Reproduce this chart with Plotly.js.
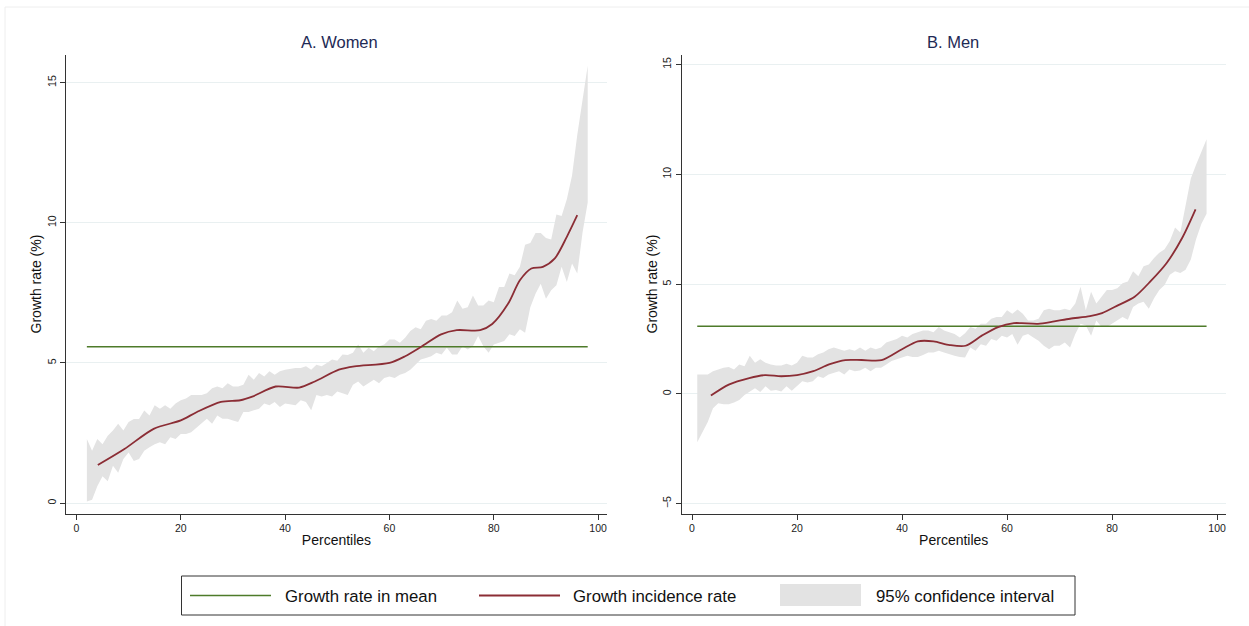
<!DOCTYPE html>
<html>
<head>
<meta charset="utf-8">
<script src="https://cdn.plot.ly/plotly-3.0.1.min.js"></script>
<style>
html,body{margin:0;padding:0;background:#fff;}
#chart{width:1249px;height:626px;}
</style>
</head>
<body>
<div id="chart"></div>
<script>
// ---------- DATA ----------
// Women: growth incidence curve (smoothed)
const womenGicX = [4.1, 9.2, 14.8, 20, 23.1, 27.7, 31.4, 33.7, 38.2, 42.7, 45.7, 50.3, 53.3, 60, 63, 66.1, 69.9, 72.9, 77.4, 79.7, 82.7, 85, 87.2, 89.4, 91.7, 94, 96];
const womenGicY = [1.36, 1.93, 2.65, 2.95, 3.25, 3.61, 3.67, 3.8, 4.16, 4.12, 4.34, 4.76, 4.88, 5.0, 5.24, 5.58, 6.02, 6.17, 6.17, 6.39, 7.1, 7.95, 8.37, 8.43, 8.73, 9.5, 10.27];
const womenMean = 5.58;
const womenMeanRange = [2, 98];
// Women: 95% CI
const womenCiX = [2,3,4,5,6,7,8,9,10,11,12,13,14,15,16,17,18,19,20,21,22,24,25,26,27,28,29,30,31,32,33,34,35,36,37,38,39,40,42,43,44,45,46,47,48,49,50,51,52,53,54,55,56,57,58,59,60,61,62,63,64,65,66,67,68,69,70,71,72,73,74,75,76,77,78,79,80,81,82,83,84,85,86,87,88,89,90,91,92,93,94,95,96,97,98];
const womenCiUpper = [2.29,1.87,2.29,2.1,2.4,2.59,2.83,2.59,2.89,3.0,3.0,3.3,3.13,3.49,3.37,3.49,3.37,3.55,3.67,3.73,3.86,3.86,3.92,4.1,4.16,4.1,4.28,4.16,4.16,4.22,4.58,4.4,4.64,4.52,4.7,4.58,4.7,4.76,4.82,4.82,4.88,4.76,4.94,4.88,5.0,5.12,5.08,5.3,5.28,5.36,5.66,5.36,5.54,5.42,5.6,5.66,5.84,5.84,5.72,5.9,6.14,6.27,6.2,6.51,6.57,6.51,6.69,6.69,6.81,7.23,6.93,6.99,7.41,7.05,7.05,7.23,7.17,7.71,7.71,8.19,8.13,8.43,9.22,9.28,9.64,9.64,9.46,9.4,10.3,10.24,10.84,11.69,13.13,14.46,15.6];
const womenCiLower = [0.06,0.12,0.6,0.96,0.78,1.33,1.08,1.57,1.81,1.5,1.57,1.87,1.99,2.1,2.17,2.1,2.35,2.29,2.47,2.47,2.53,2.83,3.01,2.83,3.13,3.01,3.01,2.95,2.89,3.25,3.25,3.31,3.37,3.55,3.49,3.61,3.43,3.55,3.49,3.67,3.61,3.31,3.86,3.8,3.86,3.8,3.98,3.92,3.86,4.22,4.34,4.16,4.28,4.4,4.28,4.46,4.52,4.46,4.58,4.64,4.76,4.94,5.12,5.18,5.24,5.36,5.3,5.54,5.3,5.3,5.6,5.48,5.6,5.96,5.6,5.36,5.66,5.72,5.78,6.02,5.96,6.2,6.08,6.99,7.47,7.83,7.29,7.59,7.77,8.43,7.89,8.55,8.19,9.64,10.72];

// Men: growth incidence curve (smoothed)
const menGicX = [3.6, 7, 10.9, 13.9, 17, 20, 23.1, 26.1, 29.2, 32.3, 36.1, 40, 43, 46, 49.1, 52.1, 55.2, 58.3, 61.3, 62.8, 65.9, 69, 72, 75.8, 78.1, 81.2, 84.3, 87.3, 90.4, 93.4, 95.9];
const menGicY = [-0.08, 0.42, 0.72, 0.85, 0.8, 0.85, 1.03, 1.34, 1.54, 1.54, 1.53, 2.03, 2.39, 2.39, 2.22, 2.19, 2.65, 3.04, 3.22, 3.22, 3.19, 3.3, 3.42, 3.54, 3.68, 4.04, 4.42, 5.12, 5.96, 7.12, 8.4];
const menMean = 3.08;
const menMeanRange = [1, 98];
// Men: 95% CI
const menCiX = [1,2,3,4,5,6,7,8,9,10,11,12,13,14,15,16,17,18,19,20,21,22,23,24,25,26,27,28,29,30,31,32,33,34,35,36,37,38,39,40,41,42,43,44,45,46,47,48,49,50,51,52,53,54,55,56,57,58,59,60,61,62,63,64,65,66,67,68,69,70,71,72,73,74,75,76,77,78,79,80,81,82,83,84,85,86,87,88,89,90,91,92,93,94,95,96,97,98];
const menCiUpper = [0.88,0.88,0.88,1.03,1.11,1.19,1.22,1.11,1.34,1.26,1.73,1.42,1.57,1.42,1.34,1.29,1.29,1.37,1.29,1.42,1.73,1.65,1.65,1.8,1.88,2.03,2.11,2.03,1.96,2.03,1.96,2.11,1.96,2.11,2.03,2.11,2.34,2.42,2.5,2.65,2.57,2.73,2.8,2.88,2.88,2.8,3.04,2.88,2.8,2.73,2.57,2.76,3.04,2.96,3.19,3.19,3.42,3.5,3.5,3.81,3.65,3.84,3.65,3.34,3.34,3.42,3.81,3.88,3.81,3.81,3.88,3.81,4.11,4.88,3.81,4.65,4.11,4.42,4.73,4.73,4.81,5.04,5.12,5.58,5.35,5.81,5.89,6.19,6.43,6.58,6.96,7.58,7.35,8.58,9.81,10.43,11.05,11.59];
const menCiLower = [-2.2,-1.74,-1.28,-0.66,-0.43,-0.48,-0.48,-0.4,-0.28,-0.05,0.11,0.26,0.08,0.34,0.14,0.18,0.11,0.34,0.14,0.34,0.57,0.52,0.57,0.8,0.72,0.88,0.96,1.03,0.88,1.11,1.03,1.06,1.19,1.03,1.19,1.19,1.34,1.49,1.57,1.65,1.73,1.68,1.68,1.77,1.88,1.88,1.96,1.88,1.8,1.73,1.68,1.65,2.11,1.96,2.26,2.19,2.5,2.42,2.65,2.57,2.73,2.23,2.65,2.73,2.57,2.42,2.19,2.03,2.19,2.19,2.34,2.11,2.73,3.19,3.11,2.65,3.34,3.04,3.04,3.19,3.34,3.5,3.37,3.96,4.11,4.19,3.88,4.35,4.73,4.96,5.42,5.58,5.5,5.65,6.12,7.04,7.73,8.2];

const panelTitles = ["A. Women", "B. Men"];
const xTickVals = [0, 20, 40, 60, 80, 100];
const womenYTicks = [0, 5, 10, 15];
const menYTicks = [-5, 0, 5, 10, 15];
const legendLabels = ["Growth rate in mean", "Growth incidence rate", "95% confidence interval"];

// ---------- STYLE ----------
const W = 1249, H = 626;
const RED = "#8b2d35", GREEN = "#4e7b2a", BAND = "#e3e3e3";
const FONT = "Liberation Sans, Arial, Helvetica, sans-serif";
const px = v => v / W;
const py = v => 1 - v / H;

function bandTraces(x, lo, hi, xa, ya) {
  return [
    {x: x, y: lo, xaxis: xa, yaxis: ya, mode: "lines", line: {width: 0, color: BAND}, hoverinfo: "skip", showlegend: false},
    {x: x, y: hi, xaxis: xa, yaxis: ya, mode: "lines", line: {width: 0, color: BAND}, fill: "tonexty", fillcolor: BAND, name: legendLabels[2], showlegend: false}
  ];
}
function meanTrace(v, r, xa, ya) {
  return {x: r, y: [v, v], xaxis: xa, yaxis: ya, mode: "lines", line: {color: GREEN, width: 1.6}, name: legendLabels[0], showlegend: false};
}
function gicTrace(x, y, xa, ya) {
  return {x: x, y: y, xaxis: xa, yaxis: ya, mode: "lines", line: {color: RED, width: 1.8, shape: "spline", smoothing: 0.8}, name: legendLabels[1], showlegend: false};
}

const data = [
  ...bandTraces(womenCiX, womenCiLower, womenCiUpper, "x", "y"),
  meanTrace(womenMean, womenMeanRange, "x", "y"),
  gicTrace(womenGicX, womenGicY, "x", "y"),
  ...bandTraces(menCiX, menCiLower, menCiUpper, "x2", "y2"),
  meanTrace(menMean, menMeanRange, "x2", "y2"),
  gicTrace(menGicX, menGicY, "x2", "y2")
];

function xAxis(domain, anchor) {
  return {
    domain: domain, anchor: anchor, range: [-2.0, 101.7],
    tickvals: xTickVals, ticks: "outside", ticklen: 5, tickcolor: "#333", tickwidth: 1,
    showline: true, linecolor: "#333", linewidth: 1, showgrid: false, zeroline: false,
    tickfont: {family: FONT, size: 10.5, color: "#222"},
    title: {text: "Percentiles", font: {family: FONT, size: 14, color: "#111"}, standoff: 2},
    automargin: false, fixedrange: true
  };
}
function yAxis(domain, anchor, range, ticks) {
  return {
    domain: domain, anchor: anchor, range: range,
    tickvals: ticks, ticks: "outside", ticklen: 5, tickcolor: "#333", tickwidth: 1, tickangle: -90,
    showline: true, linecolor: "#333", linewidth: 1,
    showgrid: true, gridcolor: "#e9f0f1", gridwidth: 1, zeroline: false,
    tickfont: {family: FONT, size: 10.5, color: "#222"},
    title: {text: "Growth rate (%)", font: {family: FONT, size: 14, color: "#111"}, standoff: 0},
    automargin: false, fixedrange: true
  };
}

const yDom = [py(513.5), py(54.6)];

const shapes = [
  // faint outer frame
  {type: "line", xref: "paper", yref: "paper", x0: px(5), x1: px(5), y0: py(7), y1: 0, line: {color: "#eeeeee", width: 1}},
  {type: "line", xref: "paper", yref: "paper", x0: px(5), x1: 1, y0: py(7), y1: py(7), line: {color: "#eeeeee", width: 1}},
  // legend box
  {type: "rect", xref: "paper", yref: "paper", x0: px(181.5), x1: px(1075), y0: py(615), y1: py(576), line: {color: "#333", width: 1}, fillcolor: "rgba(0,0,0,0)"},
  {type: "line", xref: "paper", yref: "paper", x0: px(190), x1: px(271), y0: py(595.5), y1: py(595.5), line: {color: GREEN, width: 1.6}},
  {type: "line", xref: "paper", yref: "paper", x0: px(479), x1: px(560), y0: py(595.5), y1: py(595.5), line: {color: RED, width: 1.8}},
  {type: "rect", xref: "paper", yref: "paper", x0: px(780), x1: px(861), y0: py(606), y1: py(584), line: {width: 0}, fillcolor: BAND}
];

const annotations = [
  {text: panelTitles[0], xref: "paper", yref: "paper", x: px(339), y: py(42), xanchor: "center", yanchor: "middle", showarrow: false, font: {family: FONT, size: 16.5, color: "#1e2a55"}},
  {text: panelTitles[1], xref: "paper", yref: "paper", x: px(953), y: py(42), xanchor: "center", yanchor: "middle", showarrow: false, font: {family: FONT, size: 16.5, color: "#1e2a55"}},
  {text: legendLabels[0], xref: "paper", yref: "paper", x: px(283), y: py(596), xanchor: "left", yanchor: "middle", showarrow: false, font: {family: FONT, size: 16.8, color: "#111"}},
  {text: legendLabels[1], xref: "paper", yref: "paper", x: px(571), y: py(596), xanchor: "left", yanchor: "middle", showarrow: false, font: {family: FONT, size: 16.8, color: "#111"}},
  {text: legendLabels[2], xref: "paper", yref: "paper", x: px(874), y: py(596), xanchor: "left", yanchor: "middle", showarrow: false, font: {family: FONT, size: 16.8, color: "#111"}}
];

const layout = {
  width: W, height: H,
  margin: {l: 0, r: 0, t: 0, b: 0, pad: 0},
  paper_bgcolor: "#ffffff", plot_bgcolor: "#ffffff",
  showlegend: false,
  font: {family: FONT},
  xaxis: xAxis([px(66), px(607)], "y"),
  yaxis: yAxis(yDom, "x", [-0.37, 16.0], womenYTicks),
  xaxis2: xAxis([px(681.5), px(1226)], "y2"),
  yaxis2: yAxis(yDom, "x2", [-5.45, 15.45], menYTicks),
  shapes: shapes,
  annotations: annotations
};

Plotly.newPlot("chart", data, layout, {staticPlot: true, displayModeBar: false});
</script>
</body>
</html>
